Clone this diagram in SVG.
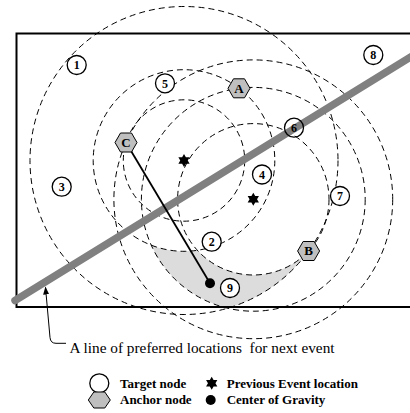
<svg xmlns="http://www.w3.org/2000/svg" width="410" height="413" viewBox="0 0 410 413">
<style>
.dc{fill:none;stroke:#000;stroke-width:1;stroke-dasharray:6 4}
.tn{fill:#fff;stroke:#000;stroke-width:1.3}
.an{fill:#bfbfbf;stroke:#000;stroke-width:1}
.num{font-family:"Liberation Serif","Times New Roman",serif;font-weight:bold;font-size:12px;text-anchor:middle}
.let{font-family:"Liberation Serif","Times New Roman",serif;font-weight:bold;font-size:13px;text-anchor:middle}
.leg{font-family:"Liberation Serif","Times New Roman",serif;font-weight:bold;font-size:13px}
.cap{font-family:"Liberation Serif","Times New Roman",serif;font-size:15.3px}
</style>
<defs>
<polygon id="star" points="0,-6.5 1.875,-3.25 5.63,-3.25 3.75,0 5.63,3.25 1.875,3.25 0,6.5 -1.875,3.25 -5.63,3.25 -3.75,0 -5.63,-3.25 -1.875,-3.25" fill="#000"/>
<polygon id="hex" points="-11,0 -5.5,-9.5 5.5,-9.5 11,0 5.5,9.5 -5.5,9.5"/>
<marker id="ah" markerWidth="8" markerHeight="6" refX="7" refY="3" orient="auto" markerUnits="userSpaceOnUse">
<path d="M0,0 L8,3 L0,6 Z" fill="#000"/>
</marker>
</defs>

<g id="region">
<path d="M151.2,245.2 A90.8,90.8 0 0 0 197.4,250.3 A75.7,75.7 0 0 0 308.6,251 A154,154 0 0 1 227.6,308.2 A111.9,111.9 0 0 1 151.2,245.2 Z" fill="#dcdcdc"/>
</g>

<g id="frame">
<rect x="16.5" y="33.5" width="400" height="273.5" fill="none" stroke="#000" stroke-width="2"/>
</g>

<g id="connectors">
<circle class="dc" cx="184" cy="160.5" r="60.7"/>
<circle class="dc" cx="184" cy="160.5" r="90.8"/>
<circle class="dc" cx="184" cy="160.5" r="154"/>
<circle class="dc" cx="253.3" cy="199.3" r="75.7"/>
<circle class="dc" cx="253.3" cy="199.3" r="111.9"/>
<circle class="dc" cx="253.3" cy="199.3" r="139.4"/>
<path d="M15,300.5 L420,51.3" stroke="#808080" stroke-width="7.5" stroke-linecap="round" fill="none"/>
<path d="M126,142.5 L210,283.3" stroke="#000" stroke-width="1.8" fill="none"/>
<path d="M66,343.3 L56,343.3 Q50.5,343.3 50,337.5 L45.5,287.5" stroke="#000" stroke-width="1" fill="none" marker-end="url(#ah)"/>
</g>

<g id="event1"><use href="#star" x="184" y="160.5"/></g>
<g id="event2"><use href="#star" x="253.3" y="199.3"/></g>
<g id="cog"><circle cx="210" cy="283.3" r="5" fill="#000"/></g>

<g id="node1"><circle class="tn" cx="76.7" cy="65" r="9.5"/><text class="num" x="76.7" y="69.2">1</text></g>
<g id="node2"><circle class="tn" cx="211.7" cy="241.7" r="9.5"/><text class="num" x="211.7" y="245.9">2</text></g>
<g id="node3"><circle class="tn" cx="61.7" cy="186.7" r="9.5"/><text class="num" x="61.7" y="190.9">3</text></g>
<g id="node4"><circle class="tn" cx="262" cy="174.5" r="9.5"/><text class="num" x="262" y="178.7">4</text></g>
<g id="node5"><circle class="tn" cx="165" cy="83.3" r="9.5"/><text class="num" x="165" y="87.5">5</text></g>
<g id="node6"><circle class="tn" cx="294" cy="127.7" r="9.5" fill="none" style="fill:none"/><text class="num" x="294" y="131.9">6</text></g>
<g id="node7"><circle class="tn" cx="340" cy="196" r="9.5"/><text class="num" x="340" y="200.2">7</text></g>
<g id="node8"><circle class="tn" cx="373.3" cy="55" r="9.5"/><text class="num" x="373.3" y="59.2">8</text></g>
<g id="node9"><circle class="tn" cx="230" cy="288" r="9.5"/><text class="num" x="230" y="292.2">9</text></g>

<g id="anchorA"><use href="#hex" class="an" x="239" y="88.3"/><text class="let" x="239" y="92.6">A</text></g>
<g id="anchorB"><use href="#hex" class="an" x="308.6" y="251"/><text class="let" x="308.6" y="255.3">B</text></g>
<g id="anchorC"><use href="#hex" class="an" x="126" y="142.5"/><text class="let" x="126" y="146.8">C</text></g>

<g id="caption"><text class="cap" x="69.5" y="353.3" xml:space="preserve">A line of preferred locations  for next event</text></g>

<g id="legend">
<circle class="tn" cx="99.3" cy="383.3" r="9.5"/>
<text class="leg" x="120" y="388">Target node</text>
<use href="#star" x="211.7" y="383.3"/>
<text class="leg" x="226.7" y="388">Previous Event location</text>
<polygon class="an" points="88.3,400 93.8,392 104.8,392 110.3,400 104.8,408 93.8,408"/>
<text class="leg" x="120" y="404">Anchor node</text>
<circle cx="210.7" cy="400" r="5" fill="#000"/>
<text class="leg" x="226.7" y="404">Center of Gravity</text>
</g>
</svg>
